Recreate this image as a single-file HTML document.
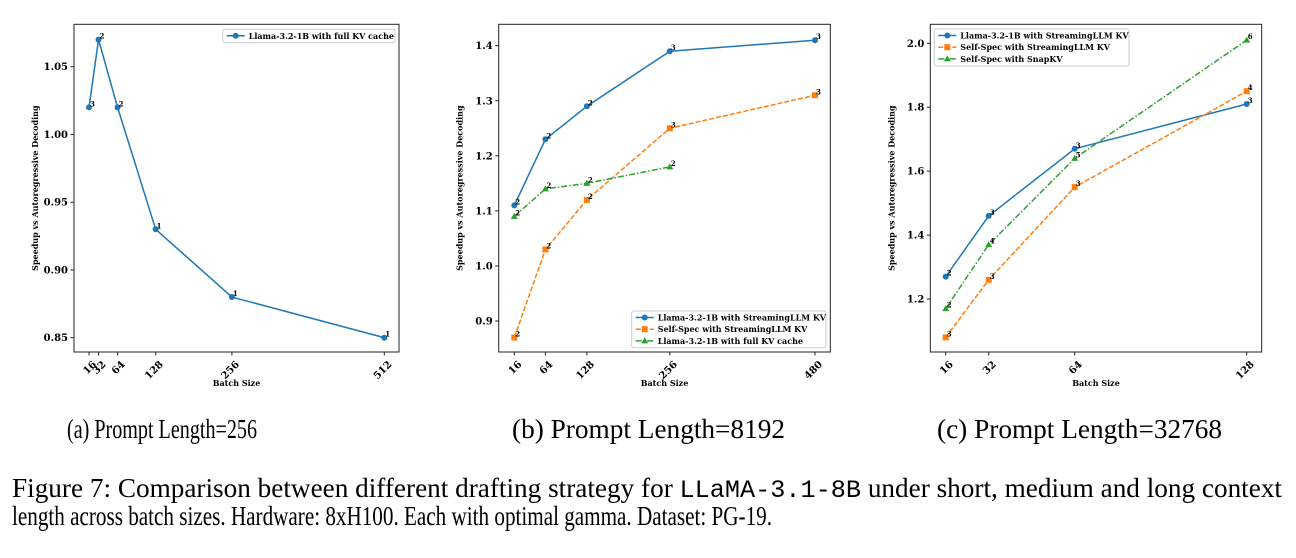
<!DOCTYPE html>
<html><head><meta charset="utf-8"><style>
html,body{margin:0;padding:0;background:#fff;width:1296px;height:558px;overflow:hidden}
svg text{font-family:"DejaVu Serif","Liberation Serif",serif}
svg text.cap{font-family:"Liberation Serif",serif}
</style></head><body>
<svg id="fig" width="1296" height="558" xmlns="http://www.w3.org/2000/svg">
<g id="root"></g>
<text class="cap" x="67" y="438" font-size="27" textLength="190" lengthAdjust="spacingAndGlyphs">(a) Prompt Length=256</text>
<text class="cap" x="512" y="438" font-size="27" textLength="273" lengthAdjust="spacingAndGlyphs">(b) Prompt Length=8192</text>
<text class="cap" x="937" y="438" font-size="27" textLength="285" lengthAdjust="spacingAndGlyphs">(c) Prompt Length=32768</text>
<text class="cap" x="12" y="497" font-size="27" textLength="1270" lengthAdjust="spacingAndGlyphs">Figure 7: Comparison between different drafting strategy for <tspan style="font-family:'Liberation Mono',monospace" font-size="25">LLaMA-3.1-8B</tspan> under short, medium and long context</text>
<text class="cap" x="12" y="525" font-size="27" textLength="760" lengthAdjust="spacingAndGlyphs">length across batch sizes. Hardware: 8xH100. Each with optimal gamma. Dataset: PG-19.</text>
</svg>
<script>
// Panel A data
const aX = [16, 32, 64, 128, 256, 512];
const aY = [1.02, 1.07, 1.02, 0.93, 0.88, 0.85];
const aAnn = ["3", "2", "2", "1", "1", "1"];
const aYTicks = [0.85, 0.90, 0.95, 1.00, 1.05];
// Panel B data
const bX = [16, 64, 128, 256, 480];
const bBlue = [1.11, 1.23, 1.29, 1.39, 1.41];
const bBlueAnn = ["2", "2", "2", "3", "3"];
const bOrange = [0.87, 1.03, 1.12, 1.25, 1.31];
const bOrangeAnn = ["2", "2", "2", "3", "3"];
const bGreenX = [16, 64, 128, 256];
const bGreen = [1.09, 1.14, 1.15, 1.18];
const bGreenAnn = ["2", "2", "2", "2"];
const bYTicks = [0.9, 1.0, 1.1, 1.2, 1.3, 1.4];
// Panel C data
const cX = [16, 32, 64, 128];
const cBlue = [1.27, 1.46, 1.67, 1.81];
const cBlueAnn = ["2", "3", "3", "3"];
const cOrange = [1.08, 1.26, 1.55, 1.85];
const cOrangeAnn = ["3", "3", "3", "4"];
const cGreen = [1.17, 1.37, 1.64, 2.01];
const cGreenAnn = ["2", "4", "5", "6"];
const cYTicks = [1.2, 1.4, 1.6, 1.8, 2.0];

const NS = "http://www.w3.org/2000/svg";
const root = document.getElementById("root");
function mk(tag, attrs, parent) {
  const e = document.createElementNS(NS, tag);
  for (const k in attrs) e.setAttribute(k, attrs[k]);
  (parent || root).appendChild(e);
  return e;
}
const BLUE = "#1f77b4", ORANGE = "#ff7f0e", GREEN = "#2ca02c";

function panel(p) {
  const g = mk("g", {});
  
  
  const sx = v => p.x0 + (v - p.xv0) * (p.x1 - p.x0) / (p.xv1 - p.xv0);
  const sy = v => p.y0 + (v - p.yv0) * (p.y1 - p.y0) / (p.yv1 - p.yv0);
  const fr = mk("rect", {x: p.L, y: p.T, width: p.R - p.L, height: p.B - p.T, fill: "none", stroke: "#222", "stroke-width": 1}, g);
  
  
  p.yticks.forEach(t => {
    const y = sy(t);
    mk("line", {x1: p.L - 3.5, x2: p.L, y1: y, y2: y, stroke: "#222"}, g);
    const tx = mk("text", {x: p.L - 6, y: y + 3.5, "font-size": 10, "font-weight": "bold", "text-anchor": "end"}, g);
    tx.textContent = t.toFixed(p.ydec);
    
    
  });
  p.xticks.forEach(t => {
    const x = sx(t);
    mk("line", {x1: x, x2: x, y1: p.B, y2: p.B + 3.5, stroke: "#222"}, g);
    const tx = mk("text", {x: x + 3, y: p.B + 8, "font-size": 10, "font-weight": "bold", "text-anchor": "end", transform: `rotate(-45 ${x + 3} ${p.B + 8})`, dy: "0.7em"}, g);
    tx.textContent = String(t);
    
    
  });
  const xt = mk("text", {x: (p.L + p.R) / 2, y: 386, "font-size": 8, "font-weight": "bold", "text-anchor": "middle"}, g);
  xt.textContent = "Batch Size";
  
  
  const yx = p.L - 36, yy = (p.T + p.B) / 2;
  const yt = mk("text", {x: yx, y: yy, "font-size": 8, "font-weight": "bold", "text-anchor": "middle", transform: `rotate(-90 ${yx} ${yy})`}, g);
  yt.textContent = "Speedup vs Autoregressive Decoding";
  
  
  p.series.forEach(s => {
    const sg = mk("g", {}, g);
    
    
    const pts = s.xs.map((x, i) => sx(x) + "," + sy(s.ys[i])).join(" ");
    mk("polyline", {points: pts, fill: "none", stroke: s.color, "stroke-width": 1.5, "stroke-dasharray": s.dash || "none"}, sg);
    s.xs.forEach((x, i) => {
      const cx = sx(x), cy = sy(s.ys[i]);
      let m;
      if (s.marker === "o") m = mk("circle", {cx, cy, r: 3, fill: s.color}, sg);
      else if (s.marker === "s") m = mk("rect", {x: cx - 3, y: cy - 3, width: 6, height: 6, fill: s.color}, sg);
      else m = mk("polygon", {points: `${cx},${cy - 3.5} ${cx - 3.5},${cy + 2.5} ${cx + 3.5},${cy + 2.5}`, fill: s.color}, sg);
      
      
      const a = mk("text", {x: cx + 1, y: cy - 1, "font-size": 7, "font-weight": "bold"}, sg);
      a.textContent = s.ann[i];
      
      
    });
  });
  const lg = mk("g", {}, g);
  
  
  const lb = p.legend;
  mk("rect", {x: lb.x, y: lb.y, width: lb.w, height: lb.h, fill: "#fff", stroke: "#ccc", rx: 2}, lg);
  p.series.forEach((s, i) => {
    const ly = lb.y + 6.5 + i * 11.7;
    const e = mk("g", {}, lg);
    
    
    mk("line", {x1: lb.x + 4, x2: lb.x + 22, y1: ly, y2: ly, stroke: s.color, "stroke-width": 1.5, "stroke-dasharray": s.dash || "none"}, e);
    const c = lb.x + 13;
    if (s.marker === "o") mk("circle", {cx: c, cy: ly, r: 3, fill: s.color}, e);
    else if (s.marker === "s") mk("rect", {x: c - 3, y: ly - 3, width: 6, height: 6, fill: s.color}, e);
    else mk("polygon", {points: `${c},${ly - 3.5} ${c - 3.5},${ly + 2.5} ${c + 3.5},${ly + 2.5}`, fill: s.color}, e);
    const t = mk("text", {x: lb.x + 26, y: ly + 3, "font-size": 8, "font-weight": "bold"}, e);
    t.textContent = s.label;
  });
}

panel({name: "panel-a", L: 74, R: 399, T: 24.3, B: 352,
  x0: 89, x1: 384.3, xv0: 16, xv1: 512, y0: 337.7, y1: 66.7, yv0: 0.85, yv1: 1.05,
  yticks: aYTicks, ydec: 2, xticks: aX,
  series: [{name: "series-full-kv", xs: aX, ys: aY, ann: aAnn, color: BLUE, marker: "o", label: "Llama-3.2-1B with full KV cache"}],
  legend: {x: 222.7, y: 29.3, w: 172.3, h: 13.4}});

panel({name: "panel-b", L: 498.7, R: 830.3, T: 24.3, B: 352,
  x0: 514.3, x1: 815, xv0: 16, xv1: 480, y0: 321, y1: 45.7, yv0: 0.9, yv1: 1.4,
  yticks: bYTicks, ydec: 1, xticks: bX,
  series: [
    {name: "series-llama-streaming", xs: bX, ys: bBlue, ann: bBlueAnn, color: BLUE, marker: "o", label: "Llama-3.2-1B with StreamingLLM KV"},
    {name: "series-selfspec-streaming", xs: bX, ys: bOrange, ann: bOrangeAnn, color: ORANGE, marker: "s", dash: "5,2", label: "Self-Spec with StreamingLLM KV"},
    {name: "series-llama-full-kv", xs: bGreenX, ys: bGreen, ann: bGreenAnn, color: GREEN, marker: "^", dash: "6,2,1.5,2", label: "Llama-3.2-1B with full KV cache"}],
  legend: {x: 631.7, y: 311, w: 194.3, h: 36.7}});

panel({name: "panel-c", L: 930.3, R: 1261.7, T: 24.3, B: 352,
  x0: 945.7, x1: 1246.7, xv0: 16, xv1: 128, y0: 299, y1: 43.3, yv0: 1.2, yv1: 2.0,
  yticks: cYTicks, ydec: 1, xticks: cX,
  series: [
    {name: "series-llama-streaming", xs: cX, ys: cBlue, ann: cBlueAnn, color: BLUE, marker: "o", label: "Llama-3.2-1B with StreamingLLM KV"},
    {name: "series-selfspec-streaming", xs: cX, ys: cOrange, ann: cOrangeAnn, color: ORANGE, marker: "s", dash: "5,2", label: "Self-Spec with StreamingLLM KV"},
    {name: "series-selfspec-snapkv", xs: cX, ys: cGreen, ann: cGreenAnn, color: GREEN, marker: "^", dash: "6,2,1.5,2", label: "Self-Spec with SnapKV"}],
  legend: {x: 934.3, y: 29, w: 194.7, h: 37}});
</script>
</body></html>
